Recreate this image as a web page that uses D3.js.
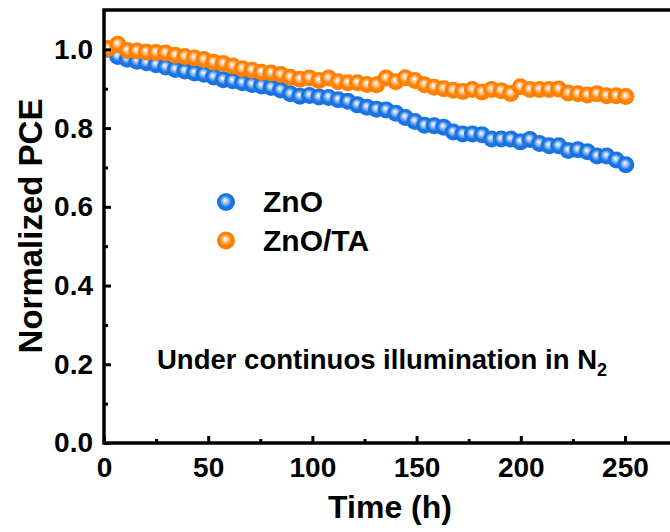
<!DOCTYPE html>
<html>
<head>
<meta charset="utf-8">
<script src="https://cdn.jsdelivr.net/npm/d3@7"></script>
<style>
  body { margin: 0; background: #fff; }
  text { font-family: "Liberation Sans", Arial, sans-serif; font-weight: bold; fill: #000; }
  .axis line { stroke: #000; stroke-width: 3; }
  .axis path { display: none; }
</style>
</head>
<body>
<div id="chart"></div>
<script>
let svgWidth = 670;
let svgHeight = 532;
let margin = { top: 10, left: 104 };
let height = 433;
let width = 583.5;   // frame runs past the right edge of the window

// Data =========================
let timeH = [2, 6.6, 11.2, 15.8, 20.4, 25, 29.6, 34.2, 38.8, 43.4, 48, 52.6, 57.2, 61.8, 66.4,
  71, 75.6, 80.2, 84.8, 89.4, 94, 98.6, 103.2, 107.8, 112.4, 117, 121.6, 126.2, 130.8, 135.4,
  140, 144.6, 149.2, 153.8, 158.4, 163, 167.6, 172.2, 176.8, 181.4, 186, 190.6, 195.2, 199.8,
  204.4, 209, 213.6, 218.2, 222.8, 227.4, 232, 236.6, 241.2, 245.8, 250.4];

let pceZnO = [1.000, 0.982, 0.975, 0.970, 0.966, 0.961, 0.955, 0.949, 0.945, 0.940, 0.937,
  0.930, 0.923, 0.920, 0.915, 0.911, 0.907, 0.903, 0.897, 0.887, 0.881, 0.883, 0.879, 0.878,
  0.872, 0.868, 0.859, 0.853, 0.848, 0.846, 0.838, 0.827, 0.817, 0.807, 0.806, 0.802, 0.790,
  0.785, 0.785, 0.783, 0.772, 0.772, 0.772, 0.765, 0.771, 0.761, 0.755, 0.755, 0.743, 0.745,
  0.740, 0.729, 0.729, 0.719, 0.707];

let pceZnOTA = [1.002, 1.013, 0.997, 0.996, 0.993, 0.992, 0.991, 0.985, 0.982, 0.978, 0.974,
  0.967, 0.964, 0.958, 0.951, 0.947, 0.942, 0.940, 0.936, 0.929, 0.924, 0.927, 0.921, 0.927,
  0.918, 0.915, 0.915, 0.911, 0.910, 0.927, 0.918, 0.928, 0.921, 0.910, 0.904, 0.900, 0.896,
  0.893, 0.898, 0.892, 0.898, 0.895, 0.888, 0.905, 0.898, 0.898, 0.898, 0.899, 0.889, 0.887,
  0.884, 0.887, 0.882, 0.882, 0.880];

let seriesNames = ["ZnO", "ZnO/TA"];
let seriesColors = ["#1a73e2", "#ff7f00"];
let xTicks = [0, 50, 100, 150, 200, 250];
let xMinor = [25, 75, 125, 175, 225, 275];
let yTicks = [0, 0.2, 0.4, 0.6, 0.8, 1.0];
let yMinor = [0.1, 0.3, 0.5, 0.7, 0.9];

let series = seriesNames.map((name, i) => ({
  name: name,
  color: seriesColors[i],
  values: timeH.map((t, j) => ({ t: t, v: [pceZnO, pceZnOTA][i][j] }))
}));

let svg = d3.select("#chart").append("svg").attr("width", svgWidth).attr("height", svgHeight);
let chartGroup = svg.append("g").attr("transform", `translate(${margin.left}, ${margin.top})`);

// Gradients for the shiny markers
let defs = svg.append("defs");
series.forEach((s, i) => {
  let grad = defs.append("radialGradient")
    .attr("id", "grad" + i)
    .attr("cx", "50%").attr("cy", "50%").attr("r", "50%")
    .attr("fx", "44%").attr("fy", "40%");
  grad.append("stop").attr("offset", "0%").attr("stop-color", "#ffffff");
  grad.append("stop").attr("offset", "25%").attr("stop-color", d3.interpolateRgb("#ffffff", s.color)(0.35));
  grad.append("stop").attr("offset", "65%").attr("stop-color", s.color);
  grad.append("stop").attr("offset", "100%").attr("stop-color", s.color);
});
defs.append("clipPath").attr("id", "plotclip")
  .append("rect").attr("x", 0).attr("y", 0).attr("width", width).attr("height", height);

// Scales
let xScale = d3.scaleLinear().domain([0, 280]).range([0, width]);
let yScale = d3.scaleLinear().domain([0, 1.1]).range([height, 0]);

// Points =========================
let plotGroup = chartGroup.append("g").attr("clip-path", "url(#plotclip)");
series.forEach((s, i) => {
  plotGroup.append("g").selectAll("circle")
    .data(s.values)
    .enter()
    .append("circle")
    .attr("cx", d => xScale(d.t))
    .attr("cy", d => yScale(d.v))
    .attr("r", 8.5)
    .attr("fill", `url(#grad${i})`);
});

// Axes =========================
let xAxis = chartGroup.append("g")
  .classed("axis", true)
  .attr("transform", `translate(0, ${height})`)
  .call(d3.axisBottom(xScale).tickValues(xTicks).tickSize(-7).tickPadding(14).tickFormat(d3.format("d")));

chartGroup.append("g")
  .classed("axis", true)
  .attr("transform", `translate(0, ${height})`)
  .call(d3.axisBottom(xScale).tickValues(xMinor).tickSize(-4).tickFormat(""));

let yAxis = chartGroup.append("g")
  .classed("axis", true)
  .call(d3.axisLeft(yScale).tickValues(yTicks).tickSize(-7).tickPadding(11).tickFormat(d3.format(".1f")));

chartGroup.append("g")
  .classed("axis", true)
  .call(d3.axisLeft(yScale).tickValues(yMinor).tickSize(-4).tickFormat(""));

chartGroup.selectAll(".axis text").style("font-size", "28px");

// frame
chartGroup.append("rect")
  .attr("x", 0).attr("y", 0)
  .attr("width", width).attr("height", height)
  .attr("fill", "none")
  .attr("stroke", "#000")
  .attr("stroke-width", 3.5);

// Axis titles
svg.append("text")
  .attr("x", 390)
  .attr("y", 518)
  .attr("text-anchor", "middle")
  .style("font-size", "32px")
  .text("Time (h)");

svg.append("text")
  .attr("transform", "translate(42, 226) rotate(-90)")
  .attr("text-anchor", "middle")
  .style("font-size", "33px")
  .text("Normalized PCE");

// Legend =========================
let legend = svg.append("g");
series.forEach((s, i) => {
  let y = 202 + i * 38.5;
  legend.append("circle")
    .attr("cx", 226).attr("cy", y).attr("r", 9)
    .attr("fill", `url(#grad${i})`);
  legend.append("text")
    .attr("x", 263).attr("y", y + 10)
    .style("font-size", "30px")
    .text(s.name);
});

// Annotation
let note = svg.append("text")
  .attr("x", 157)
  .attr("y", 369)
  .style("font-size", "27.5px")
  .text("Under continuos illumination in N");
note.append("tspan")
  .attr("dy", 7)
  .style("font-size", "18px")
  .text("2");
</script>
</body>
</html>
